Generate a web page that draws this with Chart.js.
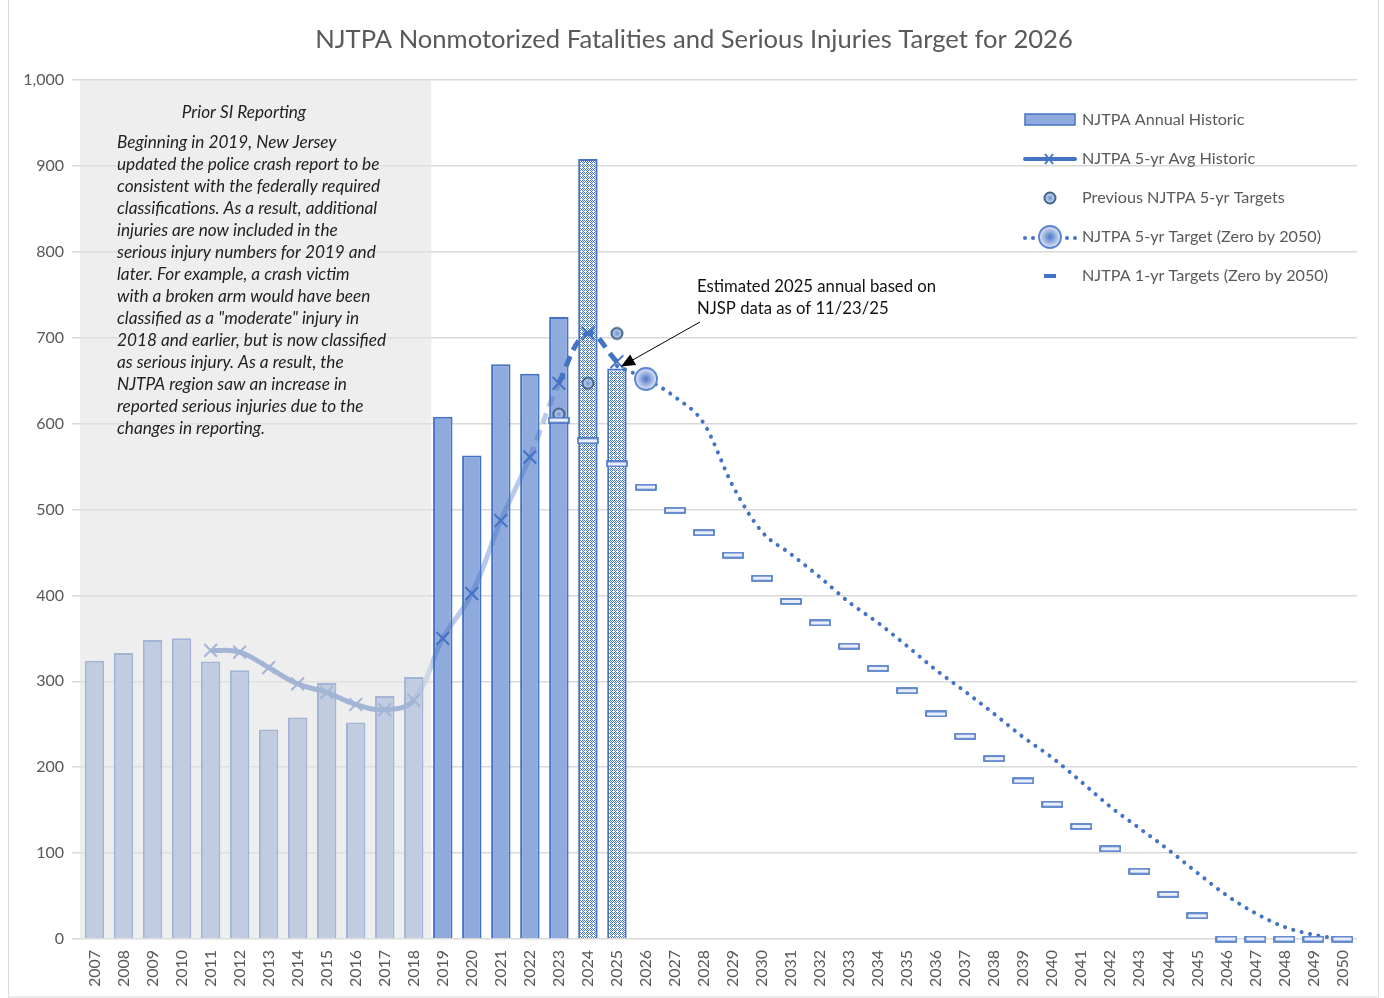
<!DOCTYPE html>
<html>
<head>
<meta charset="utf-8">
<script src="https://cdn.jsdelivr.net/npm/chart.js@4.4.1/dist/chart.umd.min.js"></script>
<style>
  body { margin: 0; background: #fff; }
  #wrap { width: 1384px; height: 998px; position: relative; }
</style>
</head>
<body>
<div id="wrap"><canvas id="graphCanvas"></canvas></div>
<script>
// categorias
var years = ['2007','2008','2009','2010','2011','2012','2013','2014','2015','2016','2017',
  '2018','2019','2020','2021','2022','2023','2024','2025','2026','2027','2028','2029',
  '2030','2031','2032','2033','2034','2035','2036','2037','2038','2039','2040','2041',
  '2042','2043','2044','2045','2046','2047','2048','2049','2050'];

// NJTPA Annual Historic, 2007-2025
var annualHistoric = [324,333,348,350,323,313,244,258,298,252,283,305,608,563,669,658,724,908,664];
// NJTPA 5-yr Avg Historic, 2011-2025
var avgHistoric = [336,334,316,297,287,273,267,278,350,402,487,561,647,705,672];
// Previous NJTPA 5-yr Targets, 2023-2025
var prevTargets = [611,647,705];
// NJTPA 5-yr Target (Zero by 2050), 2025-2050
var target5yr = [667,652,631,600,527,474,448,421,392,368,341,313,288,262,235,211,183,154,129,104,77,51,30,14,5,0];
// NJTPA 1-yr Targets (Zero by 2050), 2023-2050
var target1yr = [604,580,553,526,499,473,447,420,393,368,341,315,289,262,236,210,184,157,131,105,79,52,27,0,0,0,0,0];

var yTicks = [0,100,200,300,400,500,600,700,800,900,1000];

var title = 'NJTPA Nonmotorized Fatalities and Serious Injuries Target for 2026';
var boxTitle = 'Prior SI Reporting';
var boxLines = [
  'Beginning in 2019, New Jersey',
  'updated the police crash report to be',
  'consistent with the federally required',
  'classifications. As a result, additional',
  'injuries are now included in the',
  'serious injury numbers for 2019 and',
  'later. For example, a crash victim',
  'with a broken arm would have been',
  'classified as a "moderate" injury in',
  '2018 and earlier, but is now classified',
  'as serious injury. As a result, the',
  'NJTPA region saw an increase in',
  'reported serious injuries due to the',
  'changes in reporting.'
];
var noteLines = ['Estimated 2025 annual based on', 'NJSP data as of 11/23/25'];
var legendLabels = ['NJTPA Annual Historic','NJTPA 5-yr Avg Historic','Previous NJTPA 5-yr Targets',
  'NJTPA 5-yr Target (Zero by 2050)','NJTPA 1-yr Targets (Zero by 2050)'];

var FONT = 'Lato, "Open Sans", sans-serif';
var BLUE = '#4472c4';
var LIGHTBLUE = '#8faadc';
var GREY = '#595959';

function padTo(arr, startYear) {
  var out = [];
  for (var i = 0; i < years.length; i++) {
    var k = Number(years[i]) - startYear;
    out.push(k >= 0 && k < arr.length ? arr[k] : null);
  }
  return out;
}

// marcadores hechos a mano
function makeDash() {
  var c = document.createElement('canvas');
  c.width = 22; c.height = 7;
  var g = c.getContext('2d');
  g.fillStyle = '#e9eefa';
  g.fillRect(1, 1, 20, 5);
  g.strokeStyle = BLUE;
  g.lineWidth = 1.6;
  g.strokeRect(1, 1, 20, 5);
  return c;
}
function makeSmallCircle() {
  var c = document.createElement('canvas');
  c.width = 16; c.height = 16;
  var g = c.getContext('2d');
  var gr = g.createRadialGradient(8, 8, 0, 8, 8, 6);
  gr.addColorStop(0, '#6d8fd6');
  gr.addColorStop(1, '#dfe6f6');
  g.beginPath(); g.arc(8, 8, 5.5, 0, Math.PI * 2);
  g.fillStyle = gr; g.fill();
  g.lineWidth = 2; g.strokeStyle = '#3d6282'; g.stroke();
  return c;
}
function makeBigCircle() {
  var c = document.createElement('canvas');
  c.width = 28; c.height = 28;
  var g = c.getContext('2d');
  var gr = g.createRadialGradient(14, 14, 0, 14, 14, 11);
  gr.addColorStop(0, '#4a76c8');
  gr.addColorStop(1, '#e3e9f7');
  g.beginPath(); g.arc(14, 14, 11, 0, Math.PI * 2);
  g.fillStyle = gr; g.fill();
  g.lineWidth = 1.8; g.strokeStyle = '#5a83cf'; g.stroke();
  return c;
}
function makePattern() {
  var c = document.createElement('canvas');
  c.width = 4; c.height = 4;
  var g = c.getContext('2d');
  g.fillStyle = '#ffffff'; g.fillRect(0, 0, 4, 4);
  g.fillStyle = BLUE;
  g.fillRect(0, 0, 1, 1);
  g.fillRect(2, 0, 1, 1);
  g.fillRect(1, 1, 1, 1);
  g.fillRect(3, 1, 1, 1);
  g.fillRect(0, 2, 1, 1);
  g.fillRect(2, 2, 1, 1);
  g.fillRect(3, 3, 1, 1);
  return document.createElement('canvas').getContext('2d').createPattern(c, 'repeat');
}

var dashImg = makeDash();
var smallCircle = makeSmallCircle();
var bigCircle = makeBigCircle();
var dotPattern = makePattern();

var barColors = [];
for (var i = 0; i < annualHistoric.length; i++) {
  barColors.push(years[i] === '2024' || years[i] === '2025' ? dotPattern : LIGHTBLUE);
}

var target5Styles = [];
for (var i = 0; i < years.length; i++) {
  target5Styles.push(years[i] === '2026' ? bigCircle : false);
}

var overlayPlugin = {
  id: 'overlay',
  afterDatasetsDraw: function (chart) {
    var ctx = chart.ctx, a = chart.chartArea;
    var xs = chart.scales.x, ys = chart.scales.y;
    var right = (xs.getPixelForValue(11) + xs.getPixelForValue(12)) / 2 + 3;
    ctx.save();
    ctx.fillStyle = 'rgba(226,226,226,0.6)';
    ctx.fillRect(a.left, a.top, right - a.left, a.bottom - a.top);

    ctx.fillStyle = '#222';
    ctx.font = 'italic 17.2px ' + FONT;
    ctx.textAlign = 'center';
    ctx.textBaseline = 'middle';
    ctx.fillText(boxTitle, 244, a.top + 32);
    ctx.textAlign = 'left';
    for (var i = 0; i < boxLines.length; i++) {
      ctx.fillText(boxLines[i], 117, a.top + 62 + i * 22);
    }

    // nota y flecha
    ctx.fillStyle = '#111';
    ctx.font = '16.7px ' + FONT;
    ctx.fillText(noteLines[0], 697, 287);
    ctx.fillText(noteLines[1], 697, 309);
    var x1 = 700, y1 = 322;
    var x2 = xs.getPixelForValue(18) + 4, y2 = ys.getPixelForValue(664) - 2;
    var ang = Math.atan2(y2 - y1, x2 - x1);
    ctx.strokeStyle = '#000'; ctx.lineWidth = 1;
    ctx.beginPath(); ctx.moveTo(x1, y1);
    ctx.lineTo(x2 - 10 * Math.cos(ang), y2 - 10 * Math.sin(ang)); ctx.stroke();
    ctx.fillStyle = '#000';
    ctx.beginPath();
    ctx.moveTo(x2, y2);
    ctx.lineTo(x2 - 14 * Math.cos(ang) + 6 * Math.sin(ang), y2 - 14 * Math.sin(ang) - 6 * Math.cos(ang));
    ctx.lineTo(x2 - 14 * Math.cos(ang) - 6 * Math.sin(ang), y2 - 14 * Math.sin(ang) + 6 * Math.cos(ang));
    ctx.closePath(); ctx.fill();
    ctx.restore();
  },
  afterDraw: function (chart) {
    var ctx = chart.ctx;
    ctx.save();
    // titulo
    ctx.fillStyle = GREY;
    ctx.font = '25.6px ' + FONT;
    ctx.textAlign = 'center';
    ctx.textBaseline = 'middle';
    ctx.fillText(title, 694, 40);

    // leyenda
    var rows = [120, 159, 198, 237, 276];
    ctx.font = '16.2px ' + FONT;
    ctx.textAlign = 'left';
    for (var i = 0; i < rows.length; i++) {
      ctx.fillStyle = GREY;
      ctx.fillText(legendLabels[i], 1082, rows[i]);
    }
    ctx.fillStyle = LIGHTBLUE; ctx.strokeStyle = BLUE; ctx.lineWidth = 1.5;
    ctx.fillRect(1025, 114, 50, 11); ctx.strokeRect(1025, 114, 50, 11);

    ctx.strokeStyle = BLUE; ctx.lineWidth = 4; ctx.lineCap = 'round';
    ctx.beginPath(); ctx.moveTo(1025, 159); ctx.lineTo(1075, 159); ctx.stroke();
    ctx.lineWidth = 2; ctx.lineCap = 'butt';
    ctx.beginPath();
    ctx.moveTo(1045, 154); ctx.lineTo(1053, 164);
    ctx.moveTo(1053, 154); ctx.lineTo(1045, 164); ctx.stroke();

    ctx.drawImage(smallCircle, 1050 - 8, 198 - 8);

    ctx.fillStyle = BLUE;
    var dots = [1025, 1033, 1041, 1059, 1067, 1075];
    for (var d = 0; d < dots.length; d++) {
      ctx.beginPath(); ctx.arc(dots[d], 238, 2, 0, Math.PI * 2); ctx.fill();
    }
    ctx.drawImage(bigCircle, 1050 - 14, 237 - 14);

    ctx.fillRect(1044, 274, 12, 4);

    // marco
    ctx.strokeStyle = '#d9d9d9'; ctx.lineWidth = 1;
    ctx.strokeRect(8.5, -1, 1370, 998);
    ctx.restore();
  }
};

var chartdata = {
  labels: years,
  datasets: [
    {
      type: 'line',
      label: legendLabels[4],
      data: padTo(target1yr, 2023),
      showLine: false,
      pointStyle: dashImg,
      pointRadius: 5,
      clip: false,
      order: 1
    },
    {
      type: 'line',
      label: legendLabels[3],
      data: padTo(target5yr, 2025),
      borderColor: BLUE,
      borderWidth: 4,
      borderDash: [0.1, 8.5],
      borderCapStyle: 'round',
      cubicInterpolationMode: 'monotone',
      pointStyle: target5Styles,
      pointRadius: 5,
      clip: false,
      order: 2
    },
    {
      type: 'line',
      label: legendLabels[2],
      data: padTo(prevTargets, 2023),
      showLine: false,
      pointStyle: smallCircle,
      pointRadius: 5,
      order: 3
    },
    {
      type: 'line',
      label: legendLabels[1],
      data: padTo(avgHistoric, 2011),
      borderColor: BLUE,
      borderWidth: 5,
      tension: 0.4,
      pointStyle: 'crossRot',
      pointRadius: 9,
      pointBorderWidth: 2,
      pointBorderColor: BLUE,
      segment: {
        borderColor: function (c) {
          var i = c.p0DataIndex;
          if (i >= 11 && i <= 15) return 'rgba(68,114,196,0.38)';
          return BLUE;
        },
        borderDash: function (c) {
          return c.p0DataIndex >= 15 ? [11, 7] : undefined;
        }
      },
      order: 4
    },
    {
      type: 'bar',
      label: legendLabels[0],
      data: padTo(annualHistoric, 2007),
      backgroundColor: barColors,
      borderColor: BLUE,
      borderWidth: 2,
      categoryPercentage: 1,
      barPercentage: 0.67,
      order: 5
    }
  ]
};

window.grafica = new Chart(document.getElementById('graphCanvas'), {
  type: 'bar',
  data: chartdata,
  plugins: [overlayPlugin],
  options: {
    responsive: true,
    maintainAspectRatio: false,
    animation: false,
    devicePixelRatio: 1,
    layout: { padding: { left: 10, right: 27, top: 80, bottom: 0 } },
    plugins: {
      legend: { display: false },
      title: { display: false },
      tooltip: { enabled: false }
    },
    scales: {
      x: {
        grid: { display: false },
        border: { display: false },
        ticks: {
          color: GREY,
          font: { family: FONT, size: 16 },
          minRotation: 90,
          maxRotation: 90,
          autoSkip: false,
          padding: 3
        },
        afterFit: function (s) { s.height = 59; }
      },
      y: {
        min: 0,
        max: 1000,
        afterBuildTicks: function (s) {
          s.ticks = yTicks.map(function (v) { return { value: v }; });
        },
        grid: { color: '#d9d9d9', lineWidth: 1.5 },
        border: { display: false },
        ticks: {
          color: GREY,
          font: { family: FONT, size: 16 },
          padding: 8,
          callback: function (v) { return v.toLocaleString('en-US'); }
        },
        afterFit: function (s) { s.width = 70; }
      }
    }
  }
});
</script>
</body>
</html>
